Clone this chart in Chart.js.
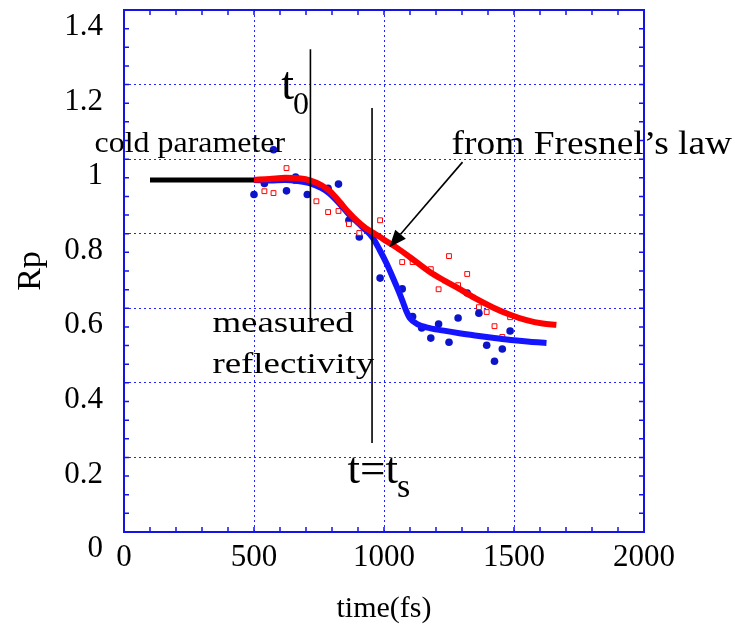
<!DOCTYPE html>
<html>
<head>
<meta charset="utf-8">
<script src="https://cdn.jsdelivr.net/npm/chart.js@4/dist/chart.umd.min.js"></script>
<style>
html,body{margin:0;padding:0;background:#fff;}
#wrap{width:735px;height:627px;}
</style>
</head>
<body>
<div id="wrap"><canvas id="chart"></canvas></div>
<script>

// measured reflectivity points
let blueT=[500,540,575,625,660,705,785,825,865,905,985,1070,1110,1145,1180,1210,1250,1285,1320,1365,1395,1425,1455,1485];
let blueR=[0.905,0.935,1.025,0.915,0.952,0.905,0.922,0.933,0.836,0.791,0.681,0.652,0.578,0.547,0.520,0.558,0.509,0.574,0.641,0.587,0.501,0.458,0.491,0.539];

let redT=[540,575,625,660,740,785,825,865,905,985,1070,1110,1180,1210,1250,1285,1320,1365,1395,1425,1455,1485];
let redR=[0.914,0.909,0.976,0.941,0.887,0.858,0.861,0.826,0.802,0.836,0.724,0.724,0.705,0.651,0.740,0.662,0.692,0.603,0.590,0.552,0.523,0.576];

// Fresnel curve
let fresnelT=[500,560,620,680,715,760,790,830,860,900,930,960,1000,1050,1100,1175,1230,1290,1350,1417,1480,1548,1610,1663];
let fresnelR=[0.945,0.947,0.950,0.948,0.943,0.930,0.915,0.885,0.860,0.832,0.815,0.802,0.784,0.762,0.737,0.698,0.675,0.652,0.627,0.603,0.584,0.568,0.559,0.556];

// fitted curve through the measurements
let fitT=[500,560,620,663,713,760,790,830,860,917,956,983,1010,1033,1055,1071,1085,1100,1130,1163,1230,1290,1350,1417,1500,1560,1625];
let fitR=[0.944,0.943,0.944,0.942,0.936,0.922,0.908,0.880,0.856,0.818,0.790,0.757,0.720,0.684,0.648,0.620,0.594,0.573,0.557,0.549,0.540,0.533,0.527,0.521,0.514,0.510,0.507];

// cold parameter level
let coldT=[100,500];
let coldR=[0.944,0.944];

// t0 and t=ts markers
let t0T=[717,717];
let t0R=[1.295,0.563];
let tsT=[954,954];
let tsR=[1.137,0.239];

let xTicks=[0,500,1000,1500,2000];
let yTicks=["0","0.2","0.4","0.6","0.8","1","1.2","1.4"];

const serif='"Liberation Serif","Times New Roman",serif';
const frameBlue="#1414e6";

function pts(xs,ys){
return xs.map((x,i)=>({x:x,y:ys[i]}));
}

// text labels, placed in data units
const notes=[
{text:"cold parameter",t:-113,r:1.019,size:29,sx:1.1},
{text:"measured",t:340,r:0.536,size:30,sx:1.23},
{text:"reflectivity",t:340,r:0.426,size:30,sx:1.23},
{text:"from Fresnel\u2019s law",t:1260,r:1.013,size:34,sx:1.1}
];

const subNotes=[
{main:"t",sub:"0",t:605,r:1.160,size:46,subSize:32,drop:15},
{main:"t=t",sub:"s",t:860,r:0.131,size:45,subSize:34,drop:14}
];

function drawText(ctx,str,x,y,size,sx){
ctx.save();
ctx.font=size+"px "+serif;
ctx.fillStyle="#000";
ctx.textBaseline="alphabetic";
ctx.textAlign="left";
ctx.translate(x,y);
ctx.scale(sx,1);
ctx.fillText(str,0,0);
let w=ctx.measureText(str).width*sx;
ctx.restore();
return w;
}

const decor={
id:"decor",
afterDatasetsDraw(c){
const ctx=c.ctx;
const xs=c.scales.x,ys=c.scales.y;
const a=c.chartArea;

// frame and inward ticks
ctx.save();
ctx.strokeStyle=frameBlue;
ctx.lineWidth=1.5;
for(let t=100;t<2000;t+=100){
let px=xs.getPixelForValue(t);
ctx.beginPath();
ctx.moveTo(px,a.bottom);ctx.lineTo(px,a.bottom-5);
ctx.moveTo(px,a.top);ctx.lineTo(px,a.top+5);
ctx.stroke();
}
for(let k=1;k<28;k++){
let py=ys.getPixelForValue(k*0.05);
ctx.beginPath();
ctx.moveTo(a.left,py);ctx.lineTo(a.left+5,py);
ctx.moveTo(a.right,py);ctx.lineTo(a.right-5,py);
ctx.stroke();
}
ctx.lineWidth=2;
ctx.strokeRect(a.left,a.top,a.right-a.left,a.bottom-a.top);
ctx.restore();

notes.forEach(n=>{
drawText(ctx,n.text,xs.getPixelForValue(n.t),ys.getPixelForValue(n.r),n.size,n.sx);
});

subNotes.forEach(n=>{
let x=xs.getPixelForValue(n.t),y=ys.getPixelForValue(n.r);
let w=drawText(ctx,n.main,x,y,n.size,1);
drawText(ctx,n.sub,x+w-1,y+n.drop,n.subSize,1);
});

// arrow pointing at the Fresnel curve
let x1=xs.getPixelForValue(1302),y1=ys.getPixelForValue(0.992);
let x2=xs.getPixelForValue(1021),y2=ys.getPixelForValue(0.764);
let ang=Math.atan2(y2-y1,x2-x1);
let hl=17,hw=7;
let bx=x2-hl*Math.cos(ang),by=y2-hl*Math.sin(ang);
ctx.save();
ctx.strokeStyle="#000";
ctx.fillStyle="#000";
ctx.lineWidth=1.6;
ctx.beginPath();
ctx.moveTo(x1,y1);ctx.lineTo(bx,by);
ctx.stroke();
ctx.beginPath();
ctx.moveTo(x2,y2);
ctx.lineTo(bx+hw*Math.sin(ang),by-hw*Math.cos(ang));
ctx.lineTo(bx-hw*Math.sin(ang),by+hw*Math.cos(ang));
ctx.closePath();
ctx.fill();
ctx.restore();
}
};

function lineSet(xs,ys,color,width){
return {
data:pts(xs,ys),
showLine:true,
borderColor:color,
backgroundColor:color,
borderWidth:width,
pointRadius:0,
cubicInterpolationMode:"monotone",
borderCapStyle:"butt"
};
}

const ctx=document.getElementById("chart");

new Chart(ctx,{
type:"scatter",
data:{
datasets:[
lineSet(t0T,t0R,"#000",1.6),
lineSet(tsT,tsR,"#000",1.6),
lineSet(fresnelT,fresnelR,"#ff0000",6),
lineSet(fitT,fitR,"#1414ff",6),
lineSet(coldT,coldR,"#000",5),
{
data:pts(redT,redR),
pointStyle:"rect",
pointRadius:3.4,
borderWidth:1,
borderColor:"#ff0000",
backgroundColor:"#fff"
},
{
data:pts(blueT,blueR),
pointStyle:"circle",
pointRadius:3.8,
borderWidth:0,
backgroundColor:"#0b14c8"
}
]
},
options:{
responsive:true,
maintainAspectRatio:false,
animation:false,
events:[],
layout:{padding:{left:0,top:10,right:91,bottom:0}},
plugins:{
legend:{display:false},
tooltip:{enabled:false}
},
scales:{
x:{
type:"linear",
min:0,
max:2000,
afterFit:s=>{s.height=95;s.paddingLeft=0;s.paddingRight=0;},
afterBuildTicks:s=>{s.ticks=xTicks.map(v=>({value:v}));},
ticks:{
padding:7,
color:"#000",
font:{family:serif,size:31},
maxRotation:0,
callback:v=>String(v)
},
grid:{
drawTicks:false,
color:"#2424ff",
lineWidth:1
},
border:{display:false,dash:[2,3]},
title:{
display:true,
text:"time(fs)",
color:"#000",
font:{family:serif,size:30},
padding:{top:0,bottom:0}
}
},
y:{
type:"linear",
min:0,
max:1.4,
afterFit:s=>{s.width=124;s.paddingTop=0;s.paddingBottom=0;},
afterBuildTicks:s=>{s.ticks=yTicks.map(v=>({value:Number(v)}));},
ticks:{
padding:21,
labelOffset:17,
color:"#000",
font:{family:serif,size:31},
callback:(v,i)=>yTicks[i]
},
grid:{
drawTicks:false,
color:"#2424ff",
lineWidth:1
},
border:{display:false,dash:[2,3]},
title:{
display:true,
text:"Rp",
color:"#000",
font:{family:serif,size:34},
padding:{top:11,bottom:0}
}
}
}
},
plugins:[decor]
});

</script>
</body>
</html>
